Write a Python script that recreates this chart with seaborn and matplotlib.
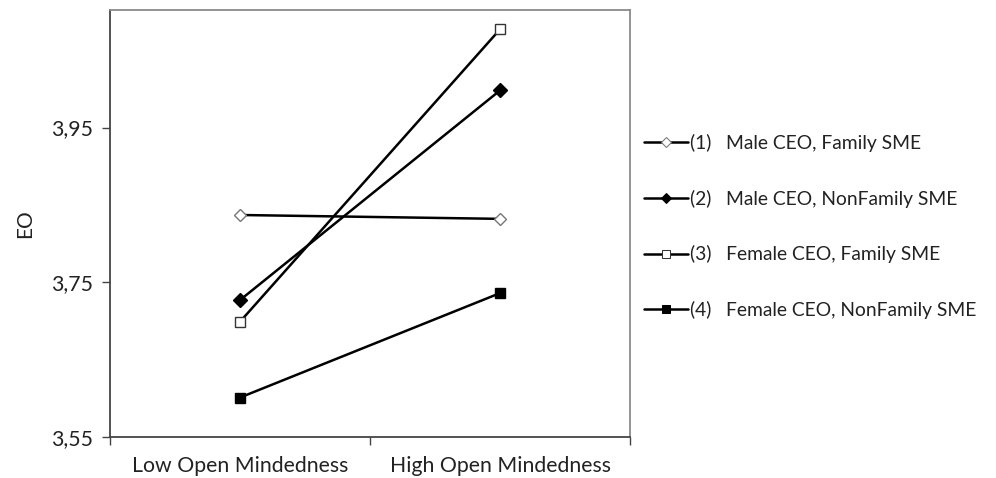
import pandas as pd
import matplotlib.pyplot as plt
import seaborn as sns
from matplotlib.ticker import FixedLocator, FuncFormatter

# ------------------------------------------------------------
# Daten
# ------------------------------------------------------------
conditions = ["Low Open Mindedness", "High Open Mindedness"]
groups = [
    "(1)   Male CEO, Family SME",
    "(2)   Male CEO, NonFamily SME",
    "(3)   Female CEO, Family SME",
    "(4)   Female CEO, NonFamily SME",
]
eo_male_family = [3.837, 3.832]
eo_male_nonfamily = [3.727, 3.998]
eo_female_family = [3.699, 4.077]
eo_female_nonfamily = [3.601, 3.736]
y_ticks = [3.55, 3.75, 3.95]

series = [eo_male_family, eo_male_nonfamily, eo_female_family, eo_female_nonfamily]
df = pd.DataFrame({
    "condition": conditions * len(groups),
    "group": [g for g in groups for _ in conditions],
    "EO": [v for s in series for v in s],
})

# ------------------------------------------------------------
# Plot
# ------------------------------------------------------------
sns.set_style("white")
plt.rcParams["font.family"] = ["Lato", "DejaVu Sans"]

fig = plt.figure(figsize=(9.96, 4.78), dpi=100)
ax = fig.add_axes([110 / 996, 41 / 478, 520 / 996, 427 / 478])

markers = {groups[0]: "D", groups[1]: "D", groups[2]: "s", groups[3]: "s"}
sns.lineplot(data=df, x="condition", y="EO", hue="group", style="group",
             markers=markers, dashes=False, sort=False,
             palette=["black"] * 4, linewidth=1.8, ax=ax, legend=True)

# Markerdarstellung wie im Original (hohl / gefuellt)
face = ["white", "black", "white", "black"]
edge = ["#777777", "black", "#333333", "black"]
size = [6, 7, 7.5, 7.5]
for line, fc, ec, ms in zip(ax.lines[:4], face, edge, size):
    line.set_markerfacecolor(fc)
    line.set_markeredgecolor(ec)
    line.set_markersize(ms)
    line.set_markeredgewidth(1.0)

ax.set_xlim(-0.5, 1.5)
ax.set_ylim(3.55, 4.102)
ax.set_yticks(y_ticks)
ax.yaxis.set_major_formatter(FuncFormatter(lambda v, p: f"{v:.2f}".replace(".", ",")))
ax.xaxis.set_minor_locator(FixedLocator([-0.5, 0.5, 1.5]))
ax.tick_params(bottom=True, left=True, which="both")
ax.tick_params(axis="x", which="major", length=0, pad=14, labelsize=15.3, colors="#222222")
ax.tick_params(axis="x", which="minor", length=6, width=1, color="#444444", direction="out")
ax.tick_params(axis="y", length=6, width=1, color="#444444", direction="out",
               labelsize=15.3, labelcolor="#222222", pad=6)
ax.set_xlabel("")
ax.set_ylabel("EO", fontsize=15, color="#222222", labelpad=12)

for side in ["left", "bottom"]:
    ax.spines[side].set_color("#444444")
    ax.spines[side].set_linewidth(1.3)
for side in ["top", "right"]:
    ax.spines[side].set_color("#8a8a8a")
    ax.spines[side].set_linewidth(1.3)

handles, labels = ax.get_legend_handles_labels()
for h, fc, ec, ms in zip(handles, face, edge, size):
    h.set_markerfacecolor(fc)
    h.set_markeredgecolor(ec)
    h.set_markersize(ms * 0.8)
    h.set_color("black")
    h.set_linewidth(1.8)
ax.legend(handles, labels, loc="center left", bbox_to_anchor=(1.0, 0.493),
          frameon=False, fontsize=13.9, handlelength=2.3, handletextpad=0.1,
          labelspacing=1.95, labelcolor="#222222", borderaxespad=0.3)

fig.savefig("out.png", dpi=100)
